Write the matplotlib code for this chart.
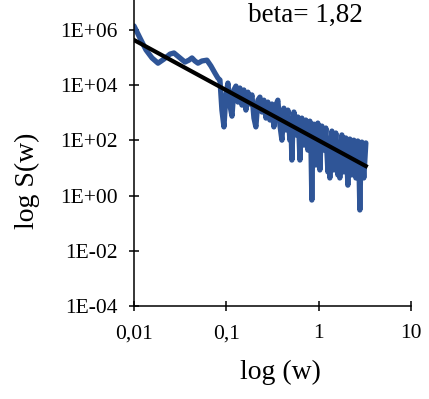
import numpy as np
import matplotlib.pyplot as plt

plt.rcParams['font.family'] = ['Liberation Serif', 'DejaVu Serif']

# espectro: log10(w) y log10(S)
log_w = [-2.000, -1.935, -1.870, -1.805, -1.740, -1.675, -1.610, -1.567, -1.513, -1.448,
         -1.405, -1.372, -1.340, -1.307, -1.264, -1.210, -1.167, -1.123, -1.091,
         -1.069, -1.048, -1.026, -1.004, -0.983, -0.961, -0.939, -0.918, -0.896, -0.874,
         -0.853, -0.831, -0.810, -0.788, -0.766, -0.745, -0.723, -0.701, -0.680, -0.658,
         -0.636, -0.615, -0.593, -0.571, -0.550, -0.528, -0.506, -0.485, -0.463, -0.442,
         -0.420, -0.398, -0.377, -0.355, -0.333,
         -0.312, -0.301, -0.290, -0.279, -0.268, -0.258, -0.247, -0.236, -0.225, -0.214,
         -0.203, -0.193, -0.182, -0.171, -0.160, -0.150, -0.139, -0.128, -0.117, -0.106,
         -0.095, -0.085, -0.074, -0.063, -0.052, -0.041, -0.030, -0.020, -0.009, 0.002,
         0.013, 0.024, 0.035, 0.046, 0.056, 0.067, 0.078, 0.089, 0.100, 0.110,
         0.121, 0.132, 0.143, 0.154, 0.165, 0.176, 0.186, 0.197, 0.208, 0.219,
         0.229, 0.240, 0.251, 0.262, 0.273, 0.284, 0.294, 0.305, 0.316, 0.327,
         0.338, 0.349, 0.359, 0.370, 0.381, 0.392, 0.403, 0.414, 0.424, 0.435,
         0.446, 0.457, 0.468, 0.478, 0.489, 0.500, 0.511]
log_S = [6.15, 5.71, 5.28, 4.99, 4.80, 4.95, 5.13, 5.17, 5.02, 4.84,
         4.91, 4.99, 4.88, 4.80, 4.88, 4.91, 4.70, 4.44, 4.26,
         4.19, 3.10, 2.49, 3.65, 4.08, 3.28, 2.88, 3.83, 3.97, 3.39,
         3.90, 3.28, 3.83, 3.10, 3.75, 3.32, 3.65, 2.81, 2.49, 3.46,
         3.57, 3.03, 3.46, 2.81, 3.39, 2.74, 3.32, 2.49, 3.28, 3.46,
         2.56, 2.01, 3.17, 2.38, 3.10,
         2.01, 2.60, 1.29, 2.50, 3.03, 2.40, 2.20, 2.70, 2.85, 2.30,
         1.29, 2.40, 2.81, 2.30, 1.83, 2.40, 2.74, 2.20, 1.65, 2.30,
         2.70, 2.10, -0.16, 2.10, 2.59, 2.00, 1.11, 2.10, 2.63, 2.00,
         0.93, 1.90, 2.52, 1.90, 1.65, 2.00, 2.45, 1.60, 0.86, 1.70,
         0.64, 1.80, 2.34, 1.70, 0.93, 1.80, 2.27, 1.60, 0.75, 1.50,
         0.64, 1.60, 2.20, 1.50, 0.86, 1.60, 2.09, 1.40, 0.38, 1.50,
         2.05, 1.40, 0.75, 1.40, 2.01, 1.30, 0.64, 1.40, 1.98, 1.30,
         -0.52, 1.30, 1.94, 1.20, 0.64, 1.30, 1.91]

# ajuste potencial S = A * w^-beta
beta = 1.82
A = 100.0
w_fit = np.array([0.01, 3.24])

x_ticks = [0.01, 0.1, 1, 10]
x_labels = ["0,01", "0,1", "1", "10"]
y_ticks = [1e-4, 1e-2, 1e0, 1e2, 1e4, 1e6]
y_labels = ["1E-04", "1E-02", "1E+00", "1E+02", "1E+04", "1E+06"]

w = 10 ** np.array(log_w)
S = 10 ** np.array(log_S)

fig = plt.figure(figsize=(4.29, 3.99), dpi=100)
ax = fig.add_axes([134 / 429, 1 - 306 / 399, 277 / 429, 306 / 399])

ax.plot(w, S, color='#2F5597', lw=3.8, solid_joinstyle='round', solid_capstyle='round')
ax.plot(w_fit, A * w_fit ** -beta, color='black', lw=3.0)

ax.set_xscale('log')
ax.set_yscale('log')
ax.set_xlim(0.01, 10)
ax.set_ylim(1e-4, 10 ** 7.09)
ax.set_xticks(x_ticks, x_labels)
ax.set_yticks(y_ticks, y_labels)
ax.minorticks_off()
ax.tick_params(direction='inout', length=7, width=1.1, labelsize=15.5)
ax.tick_params(axis='x', pad=9.5)
ax.tick_params(axis='y', pad=8.5)

for s in ['top', 'right']:
    ax.spines[s].set_visible(False)
for s in ['left', 'bottom']:
    ax.spines[s].set_linewidth(1.1)

ax.set_xlabel("log (w)", fontsize=20)
ax.set_ylabel("log S(w)", fontsize=20)
ax.xaxis.set_label_coords(0.527, -0.177)
ax.yaxis.set_label_coords(-0.339, 0.41)
ax.text(0.41, 0.951, "beta= 1,82", transform=ax.transAxes, fontsize=19.5, va='center')

fig.savefig("out.png", dpi=100)
